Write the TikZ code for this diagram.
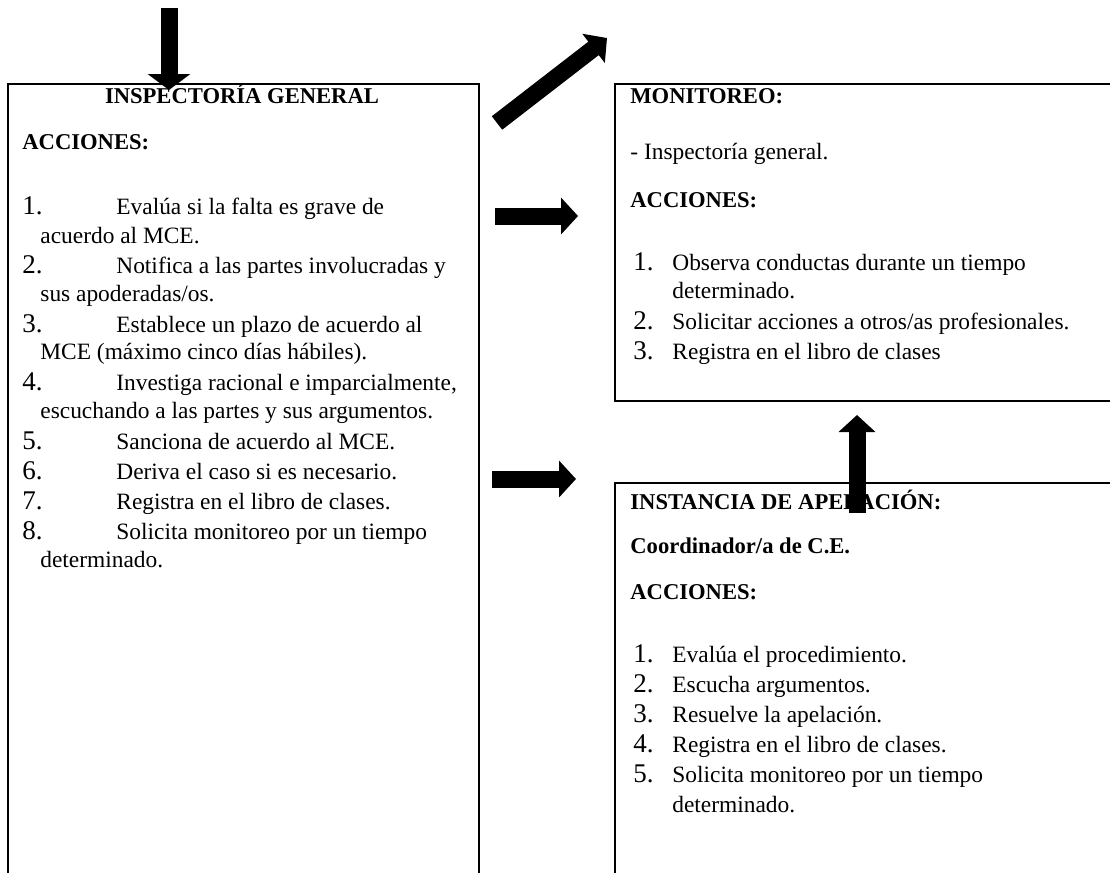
\documentclass[tikz,border=0pt]{standalone}
\usepackage{fontspec}
\setmainfont{Liberation Serif}
\usetikzlibrary{positioning, arrows.meta}
\tikzstyle{block}=[draw,rectangle,line width=1pt,anchor=north west,inner sep=0pt]
\tikzstyle{every node}=[font=\fontsize{11.7}{13}\selectfont]
\tikzstyle{txt}=[anchor=base west,inner sep=0pt]
\tikzstyle{hdr}=[txt,font=\fontsize{11.3}{13}\selectfont\bfseries]
\tikzstyle{num}=[txt,font=\fontsize{13.5}{15}\selectfont]
\tikzstyle{fat}=[line width=8.5pt,-{Triangle[width=18pt,length=8.5pt]}]

\begin{document}
\begin{tikzpicture}[x=0.5pt,y=-0.5pt]
            \useasboundingbox (0,0) rectangle (1110,873);
            \clip (0,0) rectangle (1110,873);
            % boxes
            \node[block,minimum width=235.5pt,minimum height=410pt] (Insp) at (7,83) {};
            \node[block,minimum width=260pt,minimum height=158.5pt] (Moni) at (614,83) {};
            \node[block,minimum width=260pt,minimum height=210pt] (Apel) at (614,482) {};
            % inspectoria general
            \node[hdr,anchor=base] (Ititle) at (242,103) {INSPECTORÍA GENERAL};
            \node[hdr] (Iacc) at (22,149) {ACCIONES:};
            \node[num] (In1) at (22,214) {1.};
            \node[txt] (It1) at (116,214) {Evalúa si la falta es grave de};
            \node[txt] (It1b) at (40,243) {acuerdo al MCE.};
            \node[num] (In2) at (22,273) {2.};
            \node[txt] (It2) at (116,273) {Notifica a las partes involucradas y};
            \node[txt] (It2b) at (40,301) {sus apoderadas/os.};
            \node[num] (In3) at (22,332) {3.};
            \node[txt] (It3) at (116,332) {Establece un plazo de acuerdo al};
            \node[txt] (It3b) at (40,359) {MCE (máximo cinco días hábiles).};
            \node[num] (In4) at (22,390) {4.};
            \node[txt] (It4) at (116,390) {Investiga racional e imparcialmente,};
            \node[txt] (It4b) at (40,418) {escuchando a las partes y sus argumentos.};
            \node[num] (In5) at (22,449) {5.};
            \node[txt] (It5) at (116,449) {Sanciona de acuerdo al MCE.};
            \node[num] (In6) at (22,479) {6.};
            \node[txt] (It6) at (116,479) {Deriva el caso si es necesario.};
            \node[num] (In7) at (22,509) {7.};
            \node[txt] (It7) at (116,509) {Registra en el libro de clases.};
            \node[num] (In8) at (22,539) {8.};
            \node[txt] (It8) at (116,539) {Solicita monitoreo por un tiempo};
            \node[txt] (It8b) at (40,567) {determinado.};
            % monitoreo
            \node[hdr] (Mtitle) at (630,103) {MONITOREO:};
            \node[txt] (Mwho) at (630,159) {- Inspectoría general.};
            \node[hdr] (Macc) at (630,207) {ACCIONES:};
            \node[num] (Mn1) at (633,270) {1.};
            \node[txt] (Mt1) at (672,270) {Observa conductas durante un tiempo};
            \node[txt] (Mt1b) at (672,298) {determinado.};
            \node[num] (Mn2) at (633,329) {2.};
            \node[txt] (Mt2) at (672,329) {Solicitar acciones a otros/as profesionales.};
            \node[num] (Mn3) at (633,359) {3.};
            \node[txt] (Mt3) at (672,359) {Registra en el libro de clases};
            % apelacion
            \node[hdr] (Atitle) at (630,509) {INSTANCIA DE APELACIÓN:};
            \node[hdr] (Awho) at (630,553) {Coordinador/a de C.E.};
            \node[hdr] (Aacc) at (630,599) {ACCIONES:};
            \node[num] (An1) at (633,662) {1.};
            \node[txt] (At1) at (672,662) {Evalúa el procedimiento.};
            \node[num] (An2) at (633,692) {2.};
            \node[txt] (At2) at (672,692) {Escucha argumentos.};
            \node[num] (An3) at (633,722) {3.};
            \node[txt] (At3) at (672,722) {Resuelve la apelación.};
            \node[num] (An4) at (633,752) {4.};
            \node[txt] (At4) at (672,752) {Registra en el libro de clases.};
            \node[num] (An5) at (633,782) {5.};
            \node[txt] (At5) at (672,782) {Solicita monitoreo por un tiempo};
            \node[txt] (At5b) at (672,812) {determinado.};
            % arrows
            \coordinate (inTop) at (169,8);
            \coordinate (inTip) at (169,90);
            \coordinate (dgFrom) at (497,123);
            \coordinate (dgTo) at (607,38);
            \coordinate (r1From) at (495,216);
            \coordinate (r1To) at (578,216);
            \coordinate (r2From) at (492,479);
            \coordinate (r2To) at (576,479);
            \coordinate (upFrom) at (857,513);
            \coordinate (upTo) at (857,415);
            \draw[fat,-{Triangle[width=21pt,length=8pt]}] (inTop) -- (inTip);
            \draw[fat] (dgFrom) -- (dgTo);
            \draw[fat] (r1From) -- (r1To);
            \draw[fat] (r2From) -- (r2To);
            \draw[fat] (upFrom) -- (upTo);
        \end{tikzpicture}
\end{document}
